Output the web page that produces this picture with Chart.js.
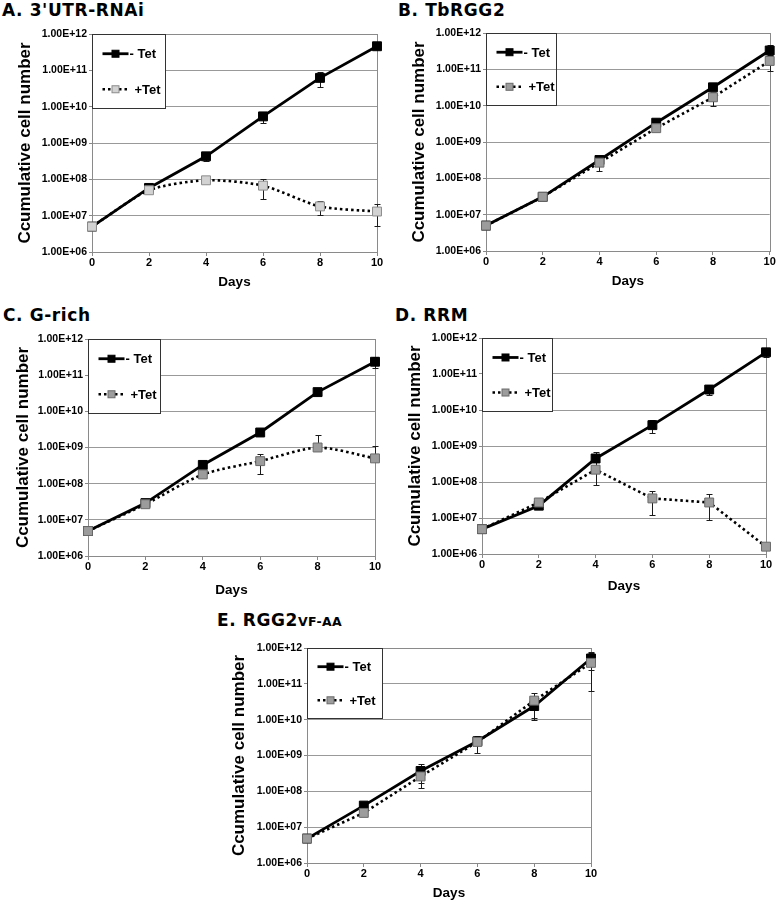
<!DOCTYPE html>
<html>
<head>
<meta charset="utf-8">
<script src="https://cdn.jsdelivr.net/npm/chart.js@4.4.1/dist/chart.umd.min.js"></script>
<style>
  html, body { margin: 0; padding: 0; background: #fff; }
  body { position: relative; width: 777px; height: 902px; overflow: hidden; }
  canvas { position: absolute; }
  .ttl { position: absolute; font: bold 17px/17px "DejaVu Sans", sans-serif; letter-spacing: 0.6px; color: #000; white-space: nowrap; }
  .ttl span { font-size: 12.5px; letter-spacing: 0.3px; }
</style>
</head>
<body>
<div class="ttl" style="left:2px;top:2px">A. 3'UTR-RNAi</div>
<div class="ttl" style="left:398px;top:2px">B. TbRGG2</div>
<div class="ttl" style="left:3px;top:307px">C. G-rich</div>
<div class="ttl" style="left:395px;top:307px">D. RRM</div>
<div class="ttl" style="left:217px;top:612px">E. RGG2<span>VF-AA</span></div>

<canvas id="chartA" width="385" height="272" style="left:0;top:20px"></canvas>
<canvas id="chartB" width="385" height="272" style="left:392px;top:20px"></canvas>
<canvas id="chartC" width="383" height="275" style="left:0;top:325px"></canvas>
<canvas id="chartD" width="385" height="271" style="left:392px;top:325px"></canvas>
<canvas id="chartE" width="400" height="267" style="left:200px;top:635px"></canvas>

<script>
// ---- data ----
const days = [0, 2, 4, 6, 8, 10]
const yTicks = [1e6, 1e7, 1e8, 1e9, 1e10, 1e11, 1e12]
const seriesNames = ['- Tet', '+Tet']

// A. 3'UTR-RNAi
const aMinus = [5.0e6, 5.8e7, 4.3e8, 5.4e9, 6.2e10, 4.6e11]
const aMinusSd = [0, 0, 1.2e8, 1.9e9, 2.7e10, 0]
const aPlus = [5.0e6, 5.0e7, 9.4e7, 6.7e7, 1.8e7, 1.3e7]
const aPlusSd = [0, 5e6, 1e7, 3.8e7, 7.3e6, 7.9e6]

// B. TbRGG2
const bMinus = [5.0e6, 3.1e7, 3.2e8, 3.4e9, 3.2e10, 3.3e11]
const bMinusSd = [0, 0, 1.0e8, 0, 0, 1.5e11]
const bPlus = [5.0e6, 3.1e7, 2.7e8, 2.4e9, 1.7e10, 1.7e11]
const bPlusSd = [0, 0, 1.1e8, 3e8, 7e9, 8e10]

// C. G-rich
const cMinus = [4.9e6, 2.9e7, 3.3e8, 2.6e9, 3.4e10, 2.35e11]
const cMinusSd = [0, 0, 0, 0, 0, 8e10]
const cPlus = [4.9e6, 2.7e7, 1.8e8, 4.2e8, 1.0e9, 5.0e8]
const cPlusSd = [0, 0, 0, 2.3e8, 1.25e9, 6.3e8]

// D. RRM
const dMinus = [4.9e6, 2.2e7, 4.5e8, 3.8e9, 3.7e10, 4.0e11]
const dMinusSd = [0, 0, 2.1e8, 1.5e9, 1.1e10, 1e11]
const dPlus = [4.9e6, 2.7e7, 2.2e8, 3.5e7, 2.7e7, 1.6e6]
const dPlusSd = [0, 0, 1.35e8, 2.3e7, 1.8e7, 0]

// E. RGG2 VF-AA
const eMinus = [4.8e6, 4.0e7, 3.7e8, 2.5e9, 2.4e10, 5.1e11]
const eMinusSd = [0, 0, 2e8, 0, 1.4e10, 2.7e11]
const ePlus = [4.8e6, 2.5e7, 2.6e8, 2.4e9, 3.4e10, 3.85e11]
const ePlusSd = [0, 0, 1.4e8, 1.2e9, 2.3e10, 3.2e11]

const FONT = '"Liberation Sans", Arial, sans-serif'

// 1.00E+06 style labels
function sci(v) {
  const exp = Math.floor(Math.log10(v) + 1e-9)
  const man = v / Math.pow(10, exp)
  return man.toFixed(2) + 'E' + (exp < 0 ? '-' : '+') + String(Math.abs(exp)).padStart(2, '0')
}

// box round the plot area
const plotFrame = {
  id: 'plotFrame',
  beforeDatasetsDraw(chart) {
    const { ctx, chartArea: a } = chart
    ctx.save()
    ctx.strokeStyle = '#8a8a8a'
    ctx.lineWidth = 1
    ctx.strokeRect(Math.round(a.left) + 0.5, Math.round(a.top) + 0.5, Math.round(a.right - a.left), Math.round(a.bottom - a.top))
    ctx.restore()
  }
}

// symmetric (linear) SD whiskers, drawn under the markers
const errorBars = {
  id: 'errorBars',
  beforeDatasetsDraw(chart) {
    const { ctx, chartArea: a, scales } = chart
    ctx.save()
    ctx.beginPath()
    ctx.rect(a.left - 5, a.top, a.right - a.left + 10, a.bottom - a.top)
    ctx.clip()
    ctx.strokeStyle = '#1a1a1a'
    ctx.lineWidth = 1
    chart.data.datasets.forEach(ds => {
      if (!ds.sd) return
      ds.data.forEach((p, i) => {
        const sd = ds.sd[i]
        if (!sd) return
        const x = Math.round(scales.x.getPixelForValue(p.x)) + 0.5
        const yc = scales.y.getPixelForValue(p.y)
        const ends = [scales.y.getPixelForValue(p.y + sd)]
        if (p.y - sd > 0) ends.push(scales.y.getPixelForValue(p.y - sd))
        ends.forEach(ye => {
          ye = Math.round(ye) + 0.5
          ctx.beginPath()
          ctx.moveTo(x, yc)
          ctx.lineTo(x, ye)
          ctx.moveTo(x - 3, ye)
          ctx.lineTo(x + 3, ye)
          ctx.stroke()
        })
      })
    })
    ctx.restore()
  }
}

// Excel-like legend box sitting in the top-left corner of the plot
const boxLegend = {
  id: 'boxLegend',
  afterDatasetsDraw(chart, args, o) {
    const { ctx, chartArea: a } = chart
    const left = Math.round(a.left) + 0.5
    const top = Math.round(a.top) + 0.5
    ctx.save()
    if (o.fill) {
      ctx.fillStyle = '#fff'
      ctx.fillRect(left, top, o.w, o.h)
    }
    ctx.strokeStyle = '#333'
    ctx.lineWidth = 1
    ctx.strokeRect(left, top, o.w, o.h)
    chart.data.datasets.forEach((ds, i) => {
      const y = top + o.h * (i === 0 ? 0.26 : 0.74)
      ctx.beginPath()
      ctx.setLineDash(ds.borderDash || [])
      ctx.strokeStyle = ds.borderColor
      ctx.lineWidth = ds.borderWidth
      ctx.moveTo(left + 10, y)
      ctx.lineTo(left + 36, y)
      ctx.stroke()
      ctx.setLineDash([])
      ctx.fillStyle = ds.pointBackgroundColor
      ctx.strokeStyle = ds.pointBorderColor
      ctx.lineWidth = 1
      ctx.fillRect(left + 19.5, y - 3.5, 7, 7)
      ctx.strokeRect(left + 19.5, y - 3.5, 7, 7)
      ctx.fillStyle = '#000'
      ctx.font = 'bold 13px ' + FONT
      ctx.textBaseline = 'middle'
      ctx.fillText(ds.label, left + (i === 0 ? 37 : 42), y + 1)
    })
    ctx.restore()
  }
}

function makeChart(id, minus, minusSd, plus, plusSd, o) {
  const pts = vals => days.map((d, i) => ({ x: d, y: vals[i] }))
  return new Chart(document.getElementById(id), {
    type: 'line',
    data: {
      datasets: [
        {
          label: seriesNames[0],
          data: pts(minus),
          sd: minusSd,
          order: 1,
          clip: false,
          borderColor: '#000',
          borderWidth: 2.8,
          pointStyle: 'rect',
          pointRadius: 6.3,
          pointBackgroundColor: '#000',
          pointBorderColor: '#000',
          pointBorderWidth: 1,
          tension: 0
        },
        {
          label: seriesNames[1],
          data: pts(plus),
          sd: plusSd,
          order: 0,
          clip: false,
          borderColor: '#000',
          borderWidth: 2.6,
          borderDash: [2.5, 3],
          pointStyle: 'rect',
          pointRadius: 6.3,
          pointBackgroundColor: o.plusFill,
          pointBorderColor: o.plusBorder,
          pointBorderWidth: 1,
          tension: o.tension
        }
      ]
    },
    options: {
      responsive: false,
      animation: false,
      layout: { padding: { top: o.padTop, right: o.padRight, left: 0, bottom: 0 } },
      plugins: {
        legend: { display: false },
        tooltip: { enabled: false },
        boxLegend: { w: o.legW, h: o.legH, fill: o.legFill }
      },
      scales: {
        x: {
          type: 'linear',
          min: 0,
          max: 10,
          afterFit: s => { s.height = o.xh },
          afterBuildTicks: s => { s.ticks = days.map(v => ({ value: v })) },
          grid: { drawOnChartArea: false, drawTicks: true, tickLength: 4, color: '#888' },
          border: { color: '#888', width: 1 },
          ticks: { color: '#000', font: { family: FONT, size: 11, weight: 'bold' }, padding: 0, maxRotation: 0 },
          title: { display: true, text: 'Days', color: '#000', font: { family: FONT, size: 13.5, weight: 'bold' }, padding: { top: 0, bottom: o.daysPad } }
        },
        y: {
          type: 'logarithmic',
          min: 1e6,
          max: 1e12,
          afterFit: s => { s.width = o.yw },
          afterBuildTicks: s => { s.ticks = yTicks.map(v => ({ value: v, major: true })) },
          grid: { color: '#999', lineWidth: 1, tickLength: 3, tickColor: '#888' },
          border: { color: '#888', width: 1 },
          ticks: { color: '#000', font: { family: FONT, size: 10.5, weight: 'bold' }, padding: 2, callback: v => sci(v), autoSkip: false },
          title: { display: true, text: 'Ccumulative cell number', color: '#000', font: { family: FONT, size: 17, weight: 'bold' }, padding: { top: o.titlePad, bottom: 0 } }
        }
      }
    },
    plugins: [plotFrame, errorBars, boxLegend]
  })
}

const lightGrey = { plusFill: '#d2d2d2', plusBorder: '#8c8c8c' }
const midGrey = { plusFill: '#9c9c9c', plusBorder: '#6a6a6a' }

makeChart('chartA', aMinus, aMinusSd, aPlus, aPlusSd,
  { ...lightGrey, yw: 92, xh: 40, padTop: 14, padRight: 8, daysPad: 2, titlePad: 15, tension: 0.25, legW: 73, legH: 74, legFill: true })
makeChart('chartB', bMinus, bMinusSd, bPlus, bPlusSd,
  { ...midGrey, yw: 94, xh: 41, padTop: 13, padRight: 7, daysPad: 3, titlePad: 17, tension: 0, legW: 70, legH: 72, legFill: false })
makeChart('chartC', cMinus, cMinusSd, cPlus, cPlusSd,
  { ...midGrey, yw: 88, xh: 44, padTop: 14, padRight: 8, daysPad: 2, titlePad: 13, tension: 0.25, legW: 72, legH: 74, legFill: true })
makeChart('chartD', dMinus, dMinusSd, dPlus, dPlusSd,
  { ...midGrey, yw: 90, xh: 42, padTop: 13, padRight: 11, daysPad: 2, titlePad: 13, tension: 0, legW: 70, legH: 73, legFill: true })
makeChart('chartE', eMinus, eMinusSd, ePlus, ePlusSd,
  { ...midGrey, yw: 107, xh: 39, padTop: 13, padRight: 9, daysPad: 1, titlePad: 29, tension: 0, legW: 75, legH: 70, legFill: true })
</script>
</body>
</html>
